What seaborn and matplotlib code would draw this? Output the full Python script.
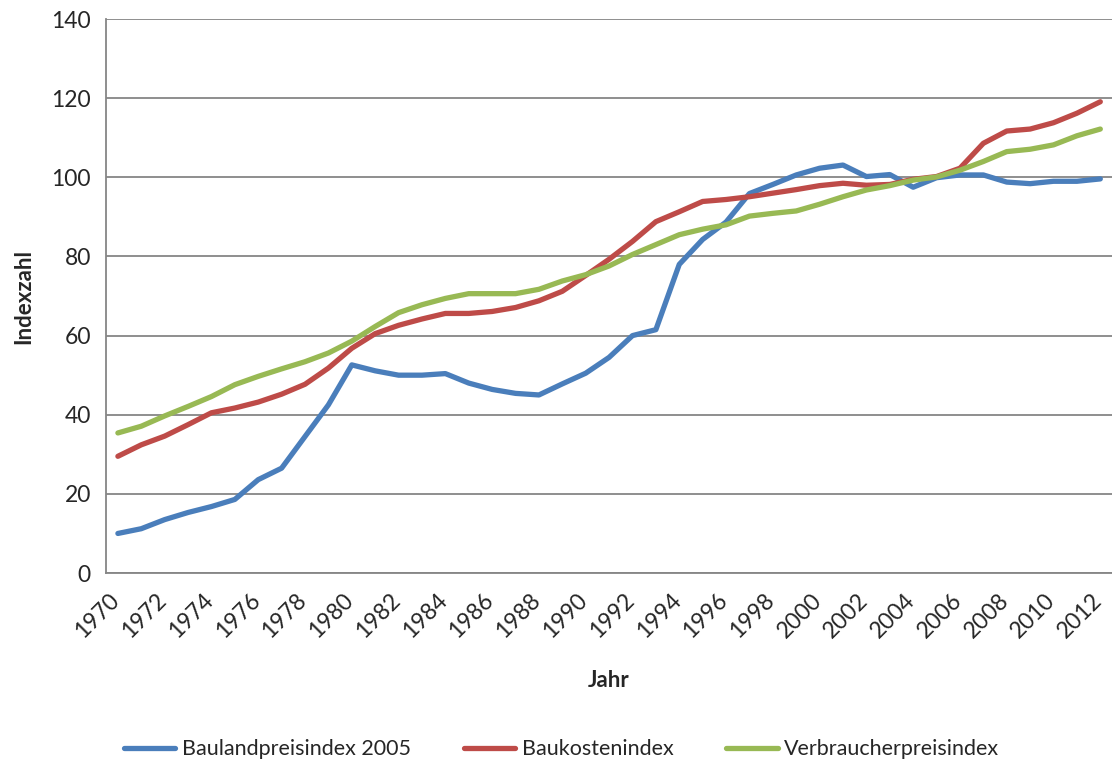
import numpy as np
import pandas as pd
import seaborn as sns
import matplotlib.pyplot as plt
import matplotlib.ticker as ticker
import matplotlib.transforms as mtransforms

years = list(range(1970, 2013))

bauland = [10.0, 11.2, 13.5, 15.3, 16.8, 18.6, 23.6, 26.5, 34.5, 42.5,
           52.6, 51.1, 50.0, 50.0, 50.4, 48.0, 46.4, 45.4, 45.0, 47.8,
           50.5, 54.5, 60.0, 61.5, 78.0, 84.3, 88.7, 95.9, 98.2, 100.6,
           102.3, 103.1, 100.2, 100.7, 97.5, 99.9, 100.6, 100.6, 98.8, 98.4,
           99.0, 99.0, 99.6]
baukosten = [29.5, 32.4, 34.6, 37.5, 40.5, 41.7, 43.2, 45.2, 47.7, 51.8,
             56.8, 60.5, 62.6, 64.2, 65.6, 65.6, 66.1, 67.1, 68.8, 71.2,
             75.2, 79.3, 83.8, 88.8, 91.3, 93.9, 94.4, 95.1, 96.0, 96.9,
             97.9, 98.5, 98.0, 98.2, 99.5, 100.2, 102.3, 108.6, 111.7, 112.2,
             113.8, 116.2, 119.1]
verbraucher = [35.4, 37.1, 39.7, 42.1, 44.6, 47.6, 49.7, 51.6, 53.4, 55.6,
               58.6, 62.3, 65.8, 67.8, 69.4, 70.6, 70.6, 70.6, 71.7, 73.8,
               75.4, 77.6, 80.5, 83.0, 85.5, 86.9, 88.0, 90.2, 90.9, 91.5,
               93.2, 95.1, 96.8, 97.9, 99.3, 100.1, 101.8, 104.0, 106.5, 107.1,
               108.2, 110.5, 112.2]

names = ['Baulandpreisindex 2005', 'Baukostenindex', 'Verbraucherpreisindex']
colors = ['#4A7EBB', '#BE4B48', '#98B954']

df = pd.DataFrame({'Jahr': years, names[0]: bauland,
                   names[1]: baukosten, names[2]: verbraucher})
long = df.melt(id_vars='Jahr', var_name='Serie', value_name='Indexzahl')

sns.set_style('white')
plt.rcParams['font.family'] = ['Lato', 'DejaVu Sans']

fig = plt.figure(figsize=(11.12, 7.62), dpi=100)
ax = fig.add_axes([0.0955, 0.248, 0.9045, 0.727])

sns.lineplot(data=long, x='Jahr', y='Indexzahl', hue='Serie',
             palette=colors, linewidth=3.8, ax=ax, legend=False)

ax.set_xlim(1969.5, 2012.5)
ax.set_ylim(0, 140)
ax.yaxis.set_major_locator(ticker.MultipleLocator(20))
ax.xaxis.set_major_locator(ticker.FixedLocator(years[::2]))
ax.xaxis.set_minor_locator(ticker.FixedLocator(np.arange(1969.5, 2013, 1)))
ax.set_xticklabels([str(y) for y in years[::2]], rotation=45,
                   ha='right', rotation_mode='anchor')
ax.tick_params(axis='x', which='major', length=0, labelsize=16.5, pad=10)
ax.tick_params(axis='x', which='minor', length=6, width=1.3,
               color='#868686', direction='out')
ax.tick_params(axis='y', length=6, width=1.3, color='#868686',
               direction='out', labelsize=16.5, pad=5)

# nudge the rotated year labels left so the last one stays inside
shift = mtransforms.ScaledTranslation(-0.09, -0.03, fig.dpi_scale_trans)
for lbl in ax.get_xticklabels():
    lbl.set_transform(lbl.get_transform() + shift)

ax.grid(axis='y', color='#868686', linewidth=1.3)
ax.set_axisbelow(True)
sns.despine(ax=ax)
for s in ['left', 'bottom']:
    ax.spines[s].set_color('#868686')
    ax.spines[s].set_linewidth(1.3)

ax.set_xlabel('Jahr', fontsize=16, fontweight='bold', labelpad=20)
ax.set_ylabel('Indexzahl', fontsize=16, fontweight='bold', labelpad=12)

handles = [plt.Line2D([], [], color=c, linewidth=3.8) for c in colors]
fig.legend(handles, names, loc='lower center', bbox_to_anchor=(0.505, -0.022),
           ncol=3, frameon=False, fontsize=15.5, handlelength=2.4,
           handletextpad=0.3, columnspacing=2.45)

fig.savefig('out.png', dpi=100)
